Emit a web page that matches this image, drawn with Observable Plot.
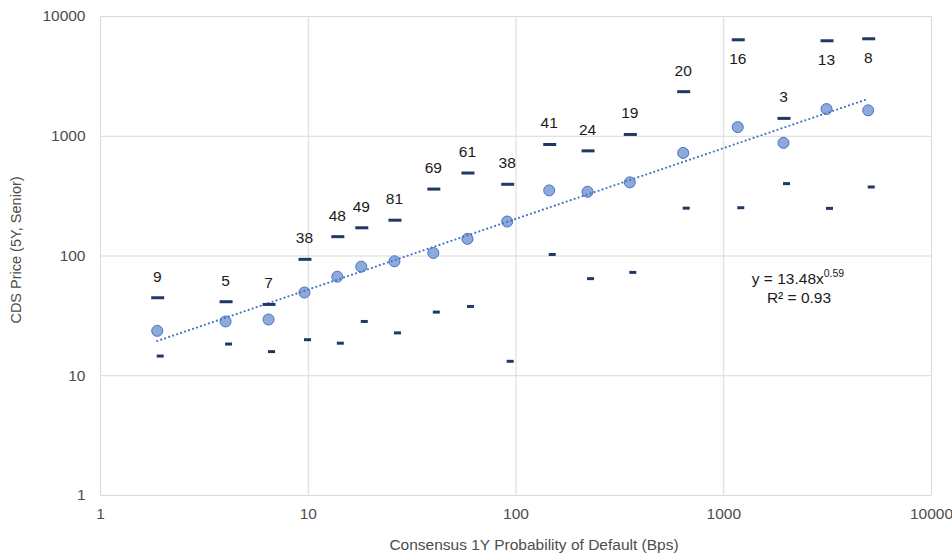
<!DOCTYPE html>
<html>
<head>
<meta charset="utf-8">
<script src="https://cdn.jsdelivr.net/npm/d3@7"></script>
<script src="https://cdn.jsdelivr.net/npm/@observablehq/plot@0.6"></script>
<style>
  html, body { margin: 0; padding: 0; background: #fff; }
  #chart { width: 952px; height: 558px; }
</style>
</head>
<body>
<div id="chart"></div>
<script>
// ---- data ----
const counts  = [9, 5, 7, 38, 48, 49, 81, 69, 61, 38, 41, 24, 19, 20, 16, 3, 13, 8];
const pd      = [1.875, 4.0, 6.44, 9.59, 13.8, 18.0, 26.0, 40.0, 58.4, 90.7, 144.5, 221, 353, 638, 1168, 1939, 3123, 4959];
const cdsMean = [23.7, 28.4, 29.5, 49.6, 67.2, 81.5, 90.3, 106, 139, 194, 353, 344, 412, 726, 1192, 881, 1687, 1645];
const cdsMax  = [44.8, 41.5, 39.4, 93.8, 145, 172, 199, 362, 493, 397, 853, 755, 1035, 2356, 6390, 1410, 6270, 6516];
const cdsMin  = [14.6, 18.4, 15.9, 20.0, 18.7, 28.4, 22.8, 34.0, 37.9, 13.2, 103, 64.7, 73, 251, 253, 402, 250, 377];
const trendX  = [1.875, 4959];
const trendY  = [19.5, 2050];
const axisTicks = [1, 10, 100, 1000, 10000];
const eqMain = "y = 13.48x";
const eqExp = "0.59";
const eqR2 = "R² = 0.93";
const xTitle = "Consensus 1Y Probability of Default (Bps)";
const yTitle = "CDS Price (5Y, Senior)";

const rows = pd.map((x, i) => ({x, mean: cdsMean[i], max: cdsMax[i], min: cdsMin[i], n: counts[i]}));
const trend = trendX.map((x, i) => ({x, y: trendY[i]}));

const bigDash = {draw(ctx) { ctx.rect(-6.5, -1.5, 13, 3); }};
const smallDash = {draw(ctx) { ctx.rect(-3.5, -1.5, 7, 3); }};

const W = 952, H = 558;
const mL = 100, mR = 21, mT = 16, mB = 63;
const font = "'Liberation Sans', Arial, sans-serif";
const tickColor = "#4d4d4d";

const chart = Plot.plot({
  width: W, height: H,
  marginLeft: mL, marginRight: mR, marginTop: mT, marginBottom: mB,
  style: {fontFamily: font, fontSize: "15.5px", color: tickColor, background: "#fff"},
  x: {type: "log", domain: [1, 10000]},
  y: {type: "log", domain: [1, 10000]},
  marks: [
    Plot.gridX(axisTicks, {stroke: "#d9d9d9", strokeOpacity: 1, strokeWidth: 1}),
    Plot.gridY(axisTicks, {stroke: "#d9d9d9", strokeOpacity: 1, strokeWidth: 1}),
    Plot.axisX({ticks: axisTicks, tickSize: 0, tickPadding: 12, tickFormat: d => String(d), label: null, fontSize: 15.5, fill: tickColor}),
    Plot.axisY({ticks: axisTicks, tickSize: 0, tickPadding: 15, tickFormat: d => String(d), label: null, fontSize: 15.5, fill: tickColor}),
    Plot.dot(rows, {x: "x", y: "mean", r: 5.5, fill: "#8eaadb", stroke: "#4472c4", strokeWidth: 1}),
    Plot.line(trend, {x: "x", y: "y", stroke: "#4472c4", strokeWidth: 2.2, strokeDasharray: "0 4.2", strokeLinecap: "round"}),
    Plot.dot(rows, {x: "x", y: "max", symbol: bigDash, fill: "#1f3864", stroke: null, dx: 0.5}),
    Plot.dot(rows, {x: "x", y: "min", symbol: smallDash, fill: "#1f3864", stroke: null, dx: 3}),
    Plot.text(rows.filter(d => d.max < 5000), {x: "x", y: "max", text: d => String(d.n), dy: -21, lineAnchor: "middle", fontSize: 15.5, fill: "#1a1a1a"}),
    Plot.text(rows.filter(d => d.max >= 5000), {x: "x", y: "max", text: d => String(d.n), dy: 19, lineAnchor: "middle", fontSize: 15.5, fill: "#1a1a1a"})
  ]
});

document.getElementById("chart").appendChild(chart);

// annotations using the chart's own scales
const sx = chart.scale("x"), sy = chart.scale("y");
const svg = d3.select(chart);
const g = svg.append("g").attr("font-family", font).attr("fill", "#1a1a1a");
const ex = sx.apply(2290), ey = sy.apply(62);
const t1 = g.append("text").attr("x", ex).attr("y", ey).attr("text-anchor", "middle").attr("dominant-baseline", "middle").attr("font-size", 15.5);
t1.append("tspan").text(eqMain);
t1.append("tspan").attr("font-size", 10.5).attr("dy", -6).text(eqExp);
g.append("text").attr("x", ex + 1).attr("y", ey + 19).attr("text-anchor", "middle").attr("dominant-baseline", "middle").attr("font-size", 15.5).text(eqR2);

svg.append("text").attr("x", 534).attr("y", 546).attr("text-anchor", "middle").attr("dominant-baseline", "middle")
  .attr("font-family", font).attr("font-size", 15.5).attr("fill", tickColor).text(xTitle);
svg.append("text").attr("transform", `translate(17,250) rotate(-90)`).attr("text-anchor", "middle").attr("dominant-baseline", "middle")
  .attr("font-family", font).attr("font-size", 14.5).attr("fill", tickColor).text(yTitle);
</script>
</body>
</html>
